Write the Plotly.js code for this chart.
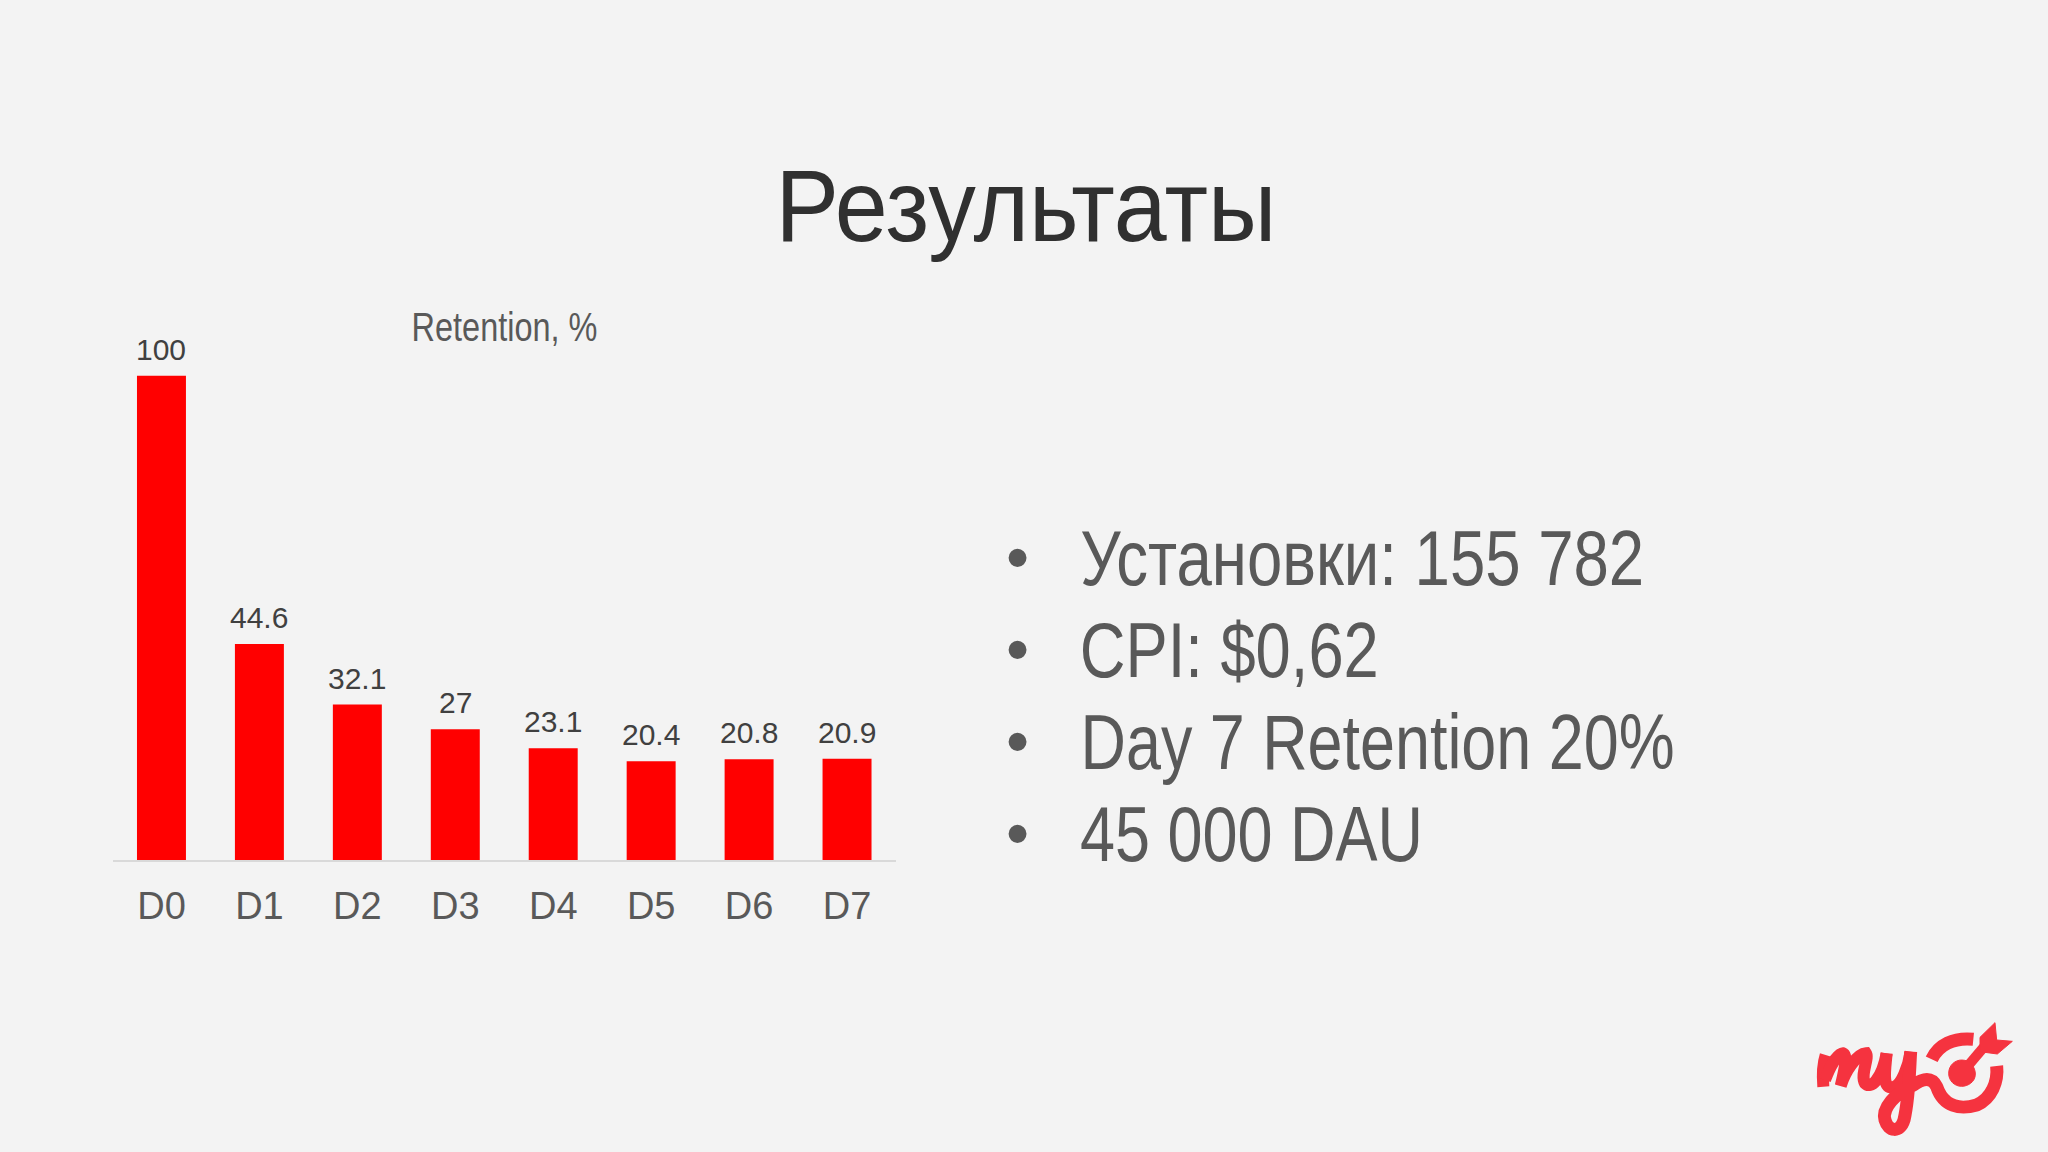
<!DOCTYPE html>
<html><head><meta charset="utf-8">
<script src="https://cdn.plot.ly/plotly-3.0.1.min.js"></script>
<style>html,body{margin:0;padding:0;background:#f3f3f3}#c{width:2048px;height:1152px}</style>
</head><body><div id="c"></div>
<script>
const days = ['D0','D1','D2','D3','D4','D5','D6','D7'];
const retention = [100,44.6,32.1,27,23.1,20.4,20.8,20.9];
const valueLabels = ['100','44.6','32.1','27','23.1','20.4','20.8','20.9'];
const slideTitle = 'Результаты';
const chartTitle = 'Retention, %';
const bulletLines = ['Установки: 155 782','CPI: $0,62','Day 7 Retention 20%','45 000 DAU'];
const W = 2048, H = 1152;
const px = x => x / W, py = y => 1 - y / H;
const SANS = '"Liberation Sans",Arial,sans-serif';
const RED = '#f5333f';
// condensed look of the slide text: text -> width on the page
const lineLeft = 1080;
const lineWidths = [564, 299, 594, 343];
const condensed = {};
condensed[chartTitle] = 186;
condensed[slideTitle] = 501;
bulletLines.forEach((t,i)=>{condensed[t]=lineWidths[i];});
function lp(cmds){
  return cmds.replace(/(-?\d+(?:\.\d+)?) (-?\d+(?:\.\d+)?)/g,(m,a,b)=>{
    const X = 1780 + (+a)/3, Y = 1000 + (+b)/3;
    return px(X).toFixed(5)+','+py(Y).toFixed(5);
  });
}
function logoStroke(d,w){return {type:'path',xref:'paper',yref:'paper',path:lp(d),line:{color:RED,width:w},layer:'above'};}
function logoFill(d){return {type:'path',xref:'paper',yref:'paper',path:lp(d),fillcolor:RED,line:{color:RED,width:1},layer:'above'};}
const logo = [
  logoStroke('M 130 260 C 127 225 129 190 137 165',12),
  logoStroke('M 135 240 C 150 200 170 162 190 160 C 205 165 190 225 182 258 C 195 215 230 162 258 160 C 268 175 240 225 255 250 C 272 268 305 240 320 160',12),
  logoStroke('M 320 160 C 315 215 305 265 340 262 C 365 255 385 200 392 155',12),
  logoStroke('M 392 155 C 388 215 388 290 372 360 C 360 400 325 395 315 360 C 305 325 345 280 400 255 C 430 235 455 230 470 260 C 490 320 540 330 590 315 C 635 295 655 245 650 198',13),
  logoStroke('M 455 178 C 475 135 520 112 580 118',13),
  logoStroke('M 545 220 L 625 125',10),
  logoFill('M 506 220 C 506 195 526 180 545 180 C 572 180 586 203 586 222 C 586 247 562 259 545 259 C 523 259 506 242 506 220 Z'),
  logoFill('M 600 112 L 645 68 L 650 120 L 697 124 L 652 162 L 600 155 Z')
];
const annotations = [];
days.forEach((d,i)=>annotations.push({x:d,y:retention[i],xref:'x',yref:'y',text:valueLabels[i],showarrow:false,
  yanchor:'bottom',yshift:8,font:{family:SANS,size:30,color:'#404040'}}));
annotations.push({xref:'paper',yref:'paper',x:px(504),y:py(327),text:chartTitle,showarrow:false,xanchor:'center',yanchor:'middle',
  font:{family:SANS,size:40,color:'#595959'}});
bulletLines.forEach((t,i)=>{
  const cy = 558 + i*92;
  annotations.push({xref:'paper',yref:'paper',x:px(lineLeft + lineWidths[i]/2),y:py(cy),text:t,showarrow:false,xanchor:'center',yanchor:'middle',
    font:{family:SANS,size:78,color:'#595959'}});
  annotations.push({xref:'paper',yref:'paper',x:px(1017),y:py(cy-1),text:'•',showarrow:false,xanchor:'center',yanchor:'middle',
    font:{family:SANS,size:66,color:'#595959'}});
});
Plotly.newPlot('c',[{type:'bar',x:days,y:retention,width:0.5,marker:{color:'#ff0000',line:{width:0}},hoverinfo:'x+y'}],{
  width:W,height:H,margin:{l:0,r:0,t:0,b:0},
  paper_bgcolor:'#f3f3f3',plot_bgcolor:'rgba(0,0,0,0)',showlegend:false,
  title:{text:slideTitle,x:1026/W,xanchor:'center',y:py(205),yanchor:'middle',font:{family:SANS,size:102,color:'#303030'}},
  xaxis:{domain:[px(112.5),px(896)],type:'category',categoryorder:'array',categoryarray:days,range:[-0.5,7.5],
    showgrid:false,zeroline:false,showline:true,linecolor:'#d9d9d9',linewidth:2,ticks:'',ticklabelstandoff:11,
    tickfont:{family:SANS,size:38,color:'#595959'},fixedrange:true},
  yaxis:{domain:[py(860),py(279)],range:[0,120],visible:false,fixedrange:true},
  annotations,shapes:logo
},{displayModeBar:false,responsive:false}).then(gd=>{
  gd.querySelectorAll('text').forEach(el=>{
    const target = condensed[el.textContent];
    if(!target) return;
    const b = el.getBBox();
    const s = target / b.width, cx = b.x + b.width/2;
    el.setAttribute('transform', (el.getAttribute('transform')||'') + ` translate(${cx*(1-s)},0) scale(${s},1)`);
  });
});
</script></body></html>
